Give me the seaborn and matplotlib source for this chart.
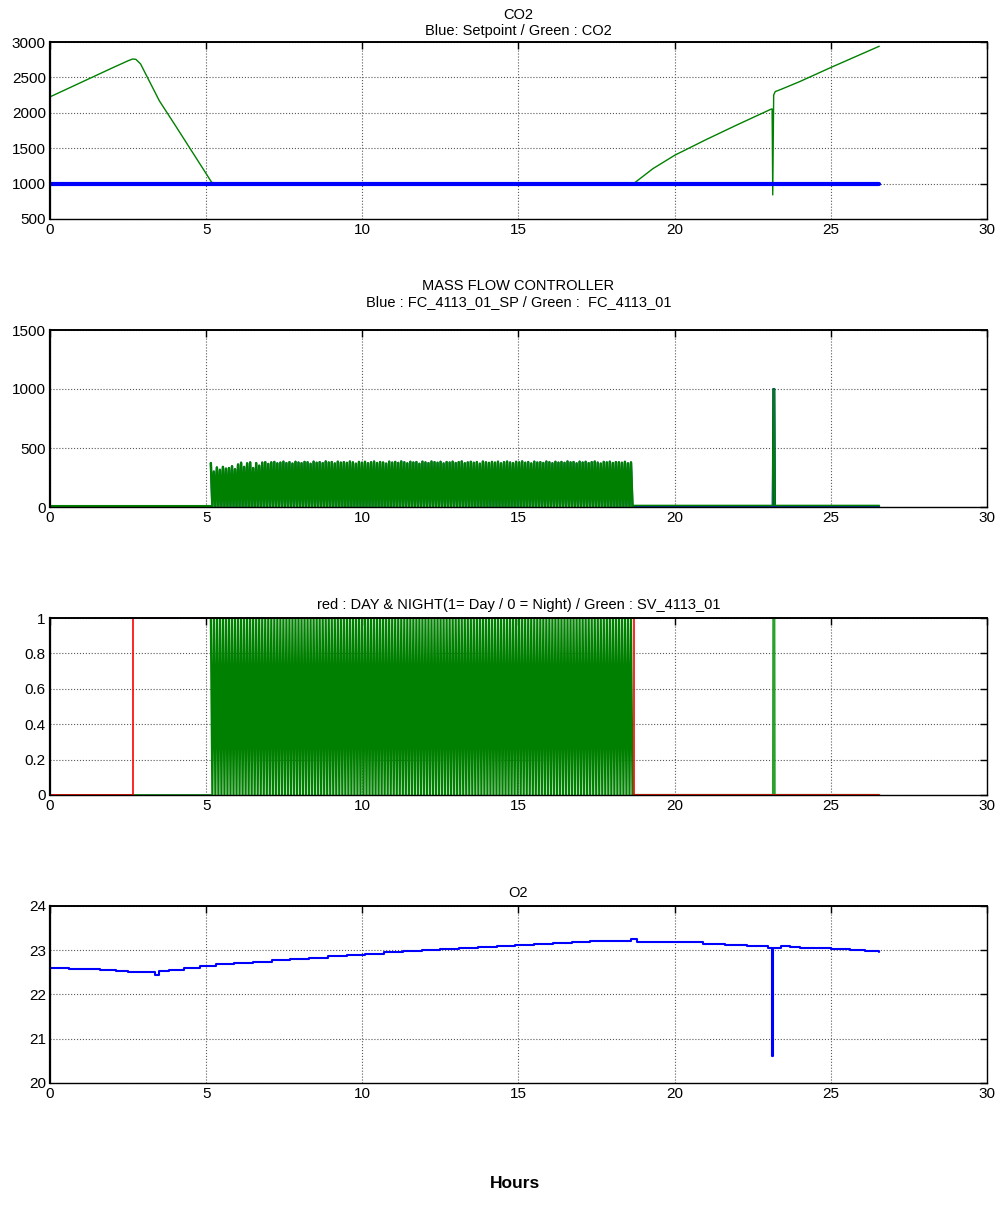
# %%
import numpy as np
import matplotlib
matplotlib.use('Agg')
import matplotlib.pyplot as plt
import seaborn as sns

# %% Dados (tempo em horas)
# CO2
co2_t = [0, 1.0, 2.0, 2.5, 2.65, 2.75, 2.9, 3.5, 4.0, 4.5,
         5.0, 5.18, 5.4, 8.0, 11.0, 14.0, 17.0, 18.7, 19.3, 20.0,
         21.0, 22.0, 23.08, 23.12, 23.14, 23.17, 23.22, 23.4, 24.0, 25.0,
         26.55]
co2_v = [2225, 2430, 2635, 2735, 2760, 2755, 2690, 2170, 1830, 1485,
         1140, 1015, 1010, 1012, 1010, 1012, 1010, 1005, 1210, 1400,
         1620, 1830, 2050, 2055, 840, 2250, 2300, 2330, 2440, 2640,
         2940]
sp_t = [0, 26.55]
sp_v = [1000, 1000]

# Mass flow controller: picos dos pulsos entre 5.15 h e 18.65 h
pulse_start, pulse_end = 5.15, 18.65
mfc_peaks = [
    372, 300, 335, 315, 340, 325, 330, 345, 320, 360, 375, 340, 370, 378, 330, 372, 350, 376, 380, 365,
    378, 382, 370, 376, 384, 372, 380, 368, 383, 377, 371, 382, 379, 366, 384, 375, 380, 372, 386, 377,
    381, 369, 384, 376, 380, 374, 385, 378, 367, 382, 376, 383, 371, 379, 385, 373, 381, 377, 368, 384,
    376, 382, 374, 386, 379, 370, 383, 377, 381, 366, 384, 378, 372, 385, 380, 375, 383, 369, 381, 377,
    384, 373, 380, 386, 371, 378, 383, 375, 381, 367, 385, 379, 374, 382, 376, 384, 370, 380, 385, 377,
    372, 383, 378, 386, 375, 381, 369, 384, 377, 380, 373, 385, 379, 371, 383, 376, 382, 374, 386, 378,
    381, 370, 384, 377, 383, 372, 380, 385, 376, 368, 382, 378, 384, 373, 381, 379, 375, 383, 370, 378,
]
mfc_pre_t = [0, 5.15]
mfc_pre_v = [12, 12]
mfc_post_t = [18.65, 23.14, 23.16, 23.19, 23.21, 26.55]
mfc_post_v = [12, 12, 1000, 1000, 12, 12]
mfc_sp_pre_v = [0, 0]
mfc_sp_post_v = [0, 0, 1000, 1000, 0, 0]

# Válvula SV_4113_01 (1 = aberta)
sv_pre_t = [0, 5.15]
sv_pre_v = [0, 0]
sv_post_t = [18.65, 23.15, 23.16, 23.19, 23.2, 26.55]
sv_post_v = [0, 0, 1, 1, 0, 0]

# Dia / noite
dn_t = [0, 2.67, 2.67, 18.7, 18.7, 26.55]
dn_v = [0, 0, 1, 1, 0, 0]

# O2
o2_t = [0, 0.6, 1.1, 1.6, 2.1, 2.5, 2.9, 3.2, 3.35, 3.5,
        3.8, 4.3, 4.8, 5.3, 5.9, 6.5, 7.1, 7.7, 8.3, 8.9,
        9.5, 10.1, 10.7, 11.3, 11.9, 12.5, 13.1, 13.7, 14.3, 14.9,
        15.5, 16.1, 16.7, 17.3, 17.9, 18.6, 18.8, 19.5, 20.2, 20.9,
        21.6, 22.3, 23.0, 23.12, 23.16, 23.4, 23.7, 24.0, 24.5, 25.0,
        25.6, 26.1, 26.55]
o2_v = [22.60, 22.58, 22.57, 22.55, 22.53, 22.50, 22.50, 22.51, 22.45, 22.53,
        22.56, 22.60, 22.64, 22.68, 22.71, 22.74, 22.77, 22.80, 22.83, 22.86,
        22.89, 22.92, 22.95, 22.98, 23.00, 23.03, 23.05, 23.08, 23.10, 23.12,
        23.14, 23.16, 23.18, 23.20, 23.22, 23.26, 23.19, 23.19, 23.18, 23.15,
        23.12, 23.09, 23.06, 20.60, 23.06, 23.10, 23.08, 23.06, 23.04, 23.02,
        23.00, 22.98, 22.97]

# %% Monta os trens de pulso (pico / zero alternados)
n = len(mfc_peaks)
pulse_t = np.linspace(pulse_start, pulse_end, 2 * n)
mfc_pulse_v = np.ravel(np.column_stack([mfc_peaks, np.zeros(n)]))
sv_pulse_v = np.ravel(np.column_stack([np.ones(n), np.zeros(n)]))

# %% Estilo parecido com o MATLAB
sns.set_style('white', {'axes.edgecolor': 'black', 'text.color': 'black',
                        'xtick.color': 'black', 'ytick.color': 'black',
                        'xtick.direction': 'in', 'ytick.direction': 'in'})
plt.rcParams['font.family'] = ['Liberation Sans', 'DejaVu Sans']
plt.rcParams['text.color'] = 'black'

GREEN = '#008000'
BLUE = '#0000ff'
RED = '#ff0000'

fig = plt.figure(figsize=(10.03, 12.24), dpi=100)
left, width, height = 50 / 1003, 937 / 1003, 177 / 1224
bottoms = [1 - 219 / 1224, 1 - 507 / 1224, 1 - 795 / 1224, 1 - 1083 / 1224]
axs = [fig.add_axes([left, b, width, height]) for b in bottoms]


def matlab_axes(ax, ylim, yticks):
    ax.set_xlim(0, 30)
    ax.set_ylim(*ylim)
    ax.set_xticks(range(0, 31, 5))
    ax.set_yticks(yticks)
    ax.grid(True, linestyle=':', color='0.35', linewidth=0.8)
    ax.set_axisbelow(True)
    ax.tick_params(direction='in', top=True, right=True, length=5, width=1,
                   labelsize=11, colors='black', pad=3)
    for s in ax.spines.values():
        s.set_color('black')
        s.set_linewidth(1.0)
    ax.spines['left'].set_linewidth(1.6)
    ax.spines['top'].set_linewidth(1.4)
    ax.set_xlabel('')
    ax.set_ylabel('')


def line(ax, x, y, color, lw, **kw):
    sns.lineplot(x=x, y=y, ax=ax, color=color, linewidth=lw,
                 estimator=None, sort=False, **kw)


# %% CO2
ax = axs[0]
line(ax, co2_t, co2_v, GREEN, 1.0)
line(ax, sp_t, sp_v, BLUE, 3.0)
matlab_axes(ax, (500, 3000), [500, 1000, 1500, 2000, 2500, 3000])
ax.set_title('CO2\nBlue: Setpoint / Green : CO2', fontsize=10.5, pad=5,
             color='black')

# %% Mass flow controller
ax = axs[1]
line(ax, mfc_pre_t, mfc_sp_pre_v, BLUE, 1.5)
line(ax, mfc_post_t, mfc_sp_post_v, BLUE, 1.5)
line(ax, pulse_t, mfc_pulse_v, '#1f5fa0', 1.6)
line(ax, mfc_pre_t, mfc_pre_v, GREEN, 1.5)
line(ax, mfc_post_t, mfc_post_v, GREEN, 1.3)
line(ax, pulse_t, mfc_pulse_v, GREEN, 1.75)
matlab_axes(ax, (0, 1500), [0, 500, 1000, 1500])
ax.set_title('MASS FLOW CONTROLLER\nBlue : FC_4113_01_SP / Green :  FC_4113_01',
             fontsize=10.5, pad=17, color='black')

# %% Dia / noite e válvula
ax = axs[2]
line(ax, sv_pre_t, sv_pre_v, GREEN, 1.2)
line(ax, sv_post_t, sv_post_v, '#2ca02c', 1.6)
line(ax, pulse_t, sv_pulse_v, GREEN, 1.6)
line(ax, dn_t, dn_v, RED, 1.2)
matlab_axes(ax, (0, 1), [0, 0.2, 0.4, 0.6, 0.8, 1])
ax.set_yticklabels(['0', '0.2', '0.4', '0.6', '0.8', '1'])
ax.set_title('red : DAY & NIGHT(1= Day / 0 = Night) / Green : SV_4113_01',
             fontsize=10.5, pad=6.5, color='black')

# %% O2
ax = axs[3]
line(ax, o2_t, o2_v, BLUE, 1.5, drawstyle='steps-post')
matlab_axes(ax, (20, 24), [20, 21, 22, 23, 24])
ax.set_title('O2', fontsize=10.5, pad=6.5, color='black')

fig.text(515 / 1003, 1 - 1183 / 1224, 'Hours', ha='center', va='center',
         fontsize=12.5, fontweight='bold', color='black')

fig.savefig('out.png', dpi=100)
